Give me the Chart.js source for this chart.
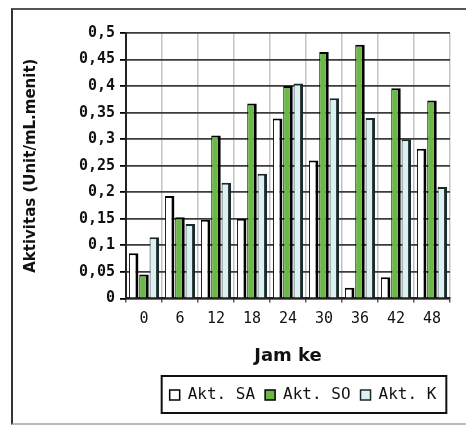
<!DOCTYPE html>
<html>
<head>
<meta charset="utf-8">
<script src="https://cdn.jsdelivr.net/npm/chart.js@4.4.1/dist/chart.umd.min.js"></script>
<style>
  html, body { margin: 0; padding: 0; background: #fff; }
  #wrap { position: relative; width: 466px; height: 425px; overflow: hidden; }
  #frame {
    position: absolute; left: 11px; top: 8px; width: 470px; height: 413px;
    border-left: 2px solid #333; border-top: 2px solid #555; border-bottom: 2px solid #bbb;
  }
  canvas { position: absolute; left: 0; top: 0; }
</style>
</head>
<body>
<div id="wrap">
  <div id="frame"></div>
  <canvas id="chart" width="466" height="425"></canvas>
</div>
<script>
// data
const jamKe = ["0", "6", "12", "18", "24", "30", "36", "42", "48"];
const aktSA = [0.085, 0.193, 0.148, 0.15, 0.339, 0.26, 0.02, 0.04, 0.282];
const aktSO = [0.045, 0.153, 0.307, 0.367, 0.40, 0.464, 0.478, 0.396, 0.373];
const aktK  = [0.115, 0.14, 0.218, 0.235, 0.405, 0.377, 0.34, 0.30, 0.21];
const yTickLabels = ["0", "0,05", "0,1", "0,15", "0,2", "0,25", "0,3", "0,35", "0,4", "0,45", "0,5"];

const barBorder = { top: 2, right: 3, left: 1, bottom: 0 };

// legend sits right of centre in the original, with a box round it
const legendBox = {
  id: "legendBox",
  afterLayout(chart) {
    chart.legend.left += 71;
    chart.legend.right += 71;
  },
  afterDraw(chart) {
    const boxes = chart.legend.legendHitBoxes;
    if (!boxes || !boxes.length) return;
    const ctx = chart.ctx;
    const l = Math.min(...boxes.map(b => b.left)) - 8;
    const r = Math.max(...boxes.map(b => b.left + b.width)) + 10;
    const t = Math.min(...boxes.map(b => b.top)) - 11;
    const btm = Math.max(...boxes.map(b => b.top + b.height)) + 10;
    ctx.save();
    ctx.strokeStyle = "#111";
    ctx.lineWidth = 2;
    ctx.strokeRect(l, t, r - l, btm - t);
    ctx.restore();
  }
};

new Chart(document.getElementById("chart"), {
  type: "bar",
  data: {
    labels: jamKe,
    datasets: [
      { label: "Akt. SA", data: aktSA, backgroundColor: "#ffffff", borderColor: "#000", borderWidth: barBorder, borderSkipped: false },
      { label: "Akt. SO", data: aktSO, backgroundColor: "#6cb846", borderColor: "#000", borderWidth: barBorder, borderSkipped: false },
      { label: "Akt. K",  data: aktK,  backgroundColor: "#dcf1f1", borderColor: "#1a2a2a", borderWidth: barBorder, borderSkipped: false }
    ]
  },
  plugins: [legendBox],
  options: {
    responsive: false,
    animation: false,
    layout: { padding: { left: 14, top: 33, right: 16, bottom: 12 } },
    datasets: { bar: { categoryPercentage: 0.86, barPercentage: 0.92 } },
    plugins: {
      tooltip: { enabled: false },
      legend: {
        position: "bottom",
        labels: {
          boxWidth: 10,
          boxHeight: 10,
          padding: 10,
          color: "#111",
          font: { family: "DejaVu Sans Mono", size: 16 }
        }
      }
    },
    scales: {
      x: {
        grid: { display: true, offset: true, color: "#c4c4c4", lineWidth: 1.5, tickLength: 4, tickColor: "#555" },
        border: { display: true, color: "#222", width: 2 },
        ticks: { color: "#111", padding: 8, font: { family: "DejaVu Sans Mono", size: 15 } },
        title: {
          display: true, text: "Jam ke", color: "#111",
          font: { family: "DejaVu Sans", size: 18, weight: "bold" },
          padding: { top: 9, bottom: 10 }
        }
      },
      y: {
        min: 0, max: 0.5,
        afterFit(scale) { scale.width = 112; },
        grid: { color: "#3c3c3c", lineWidth: 1.8, tickLength: 6, tickColor: "#000" },
        border: { display: true, color: "#222", width: 2 },
        ticks: {
          stepSize: 0.05, padding: 5, color: "#111",
          font: { family: "DejaVu Sans Mono", size: 15, weight: "bold" },
          callback: (v, i) => yTickLabels[i]
        },
        title: {
          display: true, text: "Aktivitas (Unit/mL.menit)", color: "#111",
          font: { family: "DejaVu Sans", size: 15, weight: "bold" },
          padding: { top: 8, bottom: 0 }
        }
      }
    }
  }
});
</script>
</body>
</html>
